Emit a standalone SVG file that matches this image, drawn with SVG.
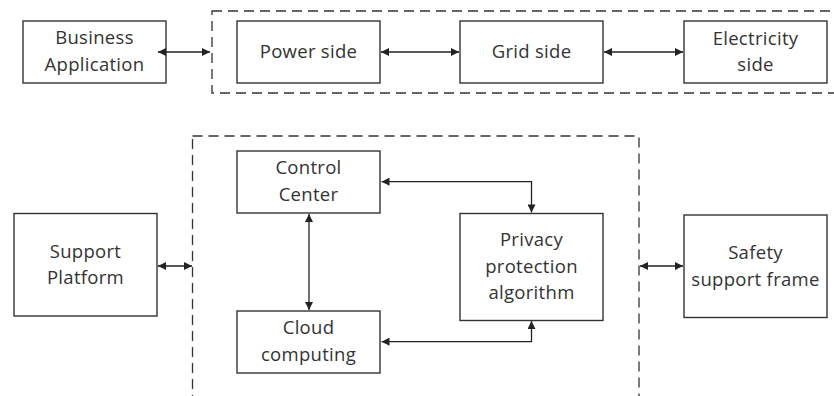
<svg xmlns="http://www.w3.org/2000/svg" width="834" height="396" viewBox="0 0 834 396">
<defs>
<style>
.box{fill:#fff;stroke:#333;stroke-width:1.4}
.dash{fill:none;stroke:#333;stroke-width:1.3;stroke-dasharray:10 6}
.ln{fill:none;stroke:#222;stroke-width:1.3}
text{font-family:"Open Sans","Liberation Sans",sans-serif;font-size:18.5px;fill:#333;text-anchor:middle;letter-spacing:0.3px}
</style>
<marker id="ah" viewBox="0 0 10 10" refX="10" refY="5" markerUnits="userSpaceOnUse" markerWidth="9" markerHeight="8" orient="auto-start-reverse">
<path d="M0,0 L10,5 L0,10 z" fill="#222"/>
</marker>
</defs>
<rect width="834" height="396" fill="#fff"/>
<g id="groups">
<rect class="dash" x="212" y="11" width="640" height="82"/>
<rect class="dash" x="192.5" y="136" width="446.5" height="280"/>
</g>
<g id="business-application">
<rect class="box" x="23" y="21" width="143" height="62"/>
<text x="94.5" y="44">Business</text>
<text x="94.5" y="70.7">Application</text>
</g>
<g id="power-side">
<rect class="box" x="237" y="21" width="143" height="62"/>
<text x="308.5" y="58.3">Power side</text>
</g>
<g id="grid-side">
<rect class="box" x="460" y="21" width="143" height="62"/>
<text x="531.5" y="58.3">Grid side</text>
</g>
<g id="electricity-side">
<rect class="box" x="684" y="21" width="143" height="62"/>
<text x="755.5" y="44.7">Electricity</text>
<text x="755.5" y="70.7">side</text>
</g>
<g id="control-center">
<rect class="box" x="237" y="151" width="143" height="62"/>
<text x="308.5" y="174.3">Control</text>
<text x="308.5" y="201">Center</text>
</g>
<g id="support-platform">
<rect class="box" x="14" y="213.5" width="143" height="102.5"/>
<text x="85.5" y="257.7">Support</text>
<text x="85.5" y="284.3">Platform</text>
</g>
<g id="cloud-computing">
<rect class="box" x="237" y="311" width="143" height="62"/>
<text x="308.5" y="334.3">Cloud</text>
<text x="308.5" y="361">computing</text>
</g>
<g id="privacy-protection">
<rect class="box" x="460" y="213.5" width="143" height="107"/>
<text x="531.5" y="246">Privacy</text>
<text x="531.5" y="272.7">protection</text>
<text x="531.5" y="299.3">algorithm</text>
</g>
<g id="safety-support-frame">
<rect class="box" x="684" y="215" width="143" height="102.5"/>
<text x="755.5" y="259">Safety</text>
<text x="755.5" y="285.7">support frame</text>
</g>
<g id="connectors">
<line class="ln" x1="158" y1="52" x2="210" y2="52" marker-start="url(#ah)" marker-end="url(#ah)"/>
<line class="ln" x1="381" y1="52" x2="459" y2="52" marker-start="url(#ah)" marker-end="url(#ah)"/>
<line class="ln" x1="604" y1="52" x2="683" y2="52" marker-start="url(#ah)" marker-end="url(#ah)"/>
<line class="ln" x1="158" y1="266" x2="192" y2="266" marker-start="url(#ah)" marker-end="url(#ah)"/>
<line class="ln" x1="640" y1="266" x2="683" y2="266" marker-start="url(#ah)" marker-end="url(#ah)"/>
<line class="ln" x1="309" y1="214" x2="309" y2="310" marker-start="url(#ah)" marker-end="url(#ah)"/>
<polyline class="ln" points="381.5,181.7 531.5,181.7 531.5,212.5" marker-start="url(#ah)" marker-end="url(#ah)"/>
<polyline class="ln" points="381.5,341.7 531.5,341.7 531.5,321" marker-start="url(#ah)" marker-end="url(#ah)"/>
</g>
</svg>
